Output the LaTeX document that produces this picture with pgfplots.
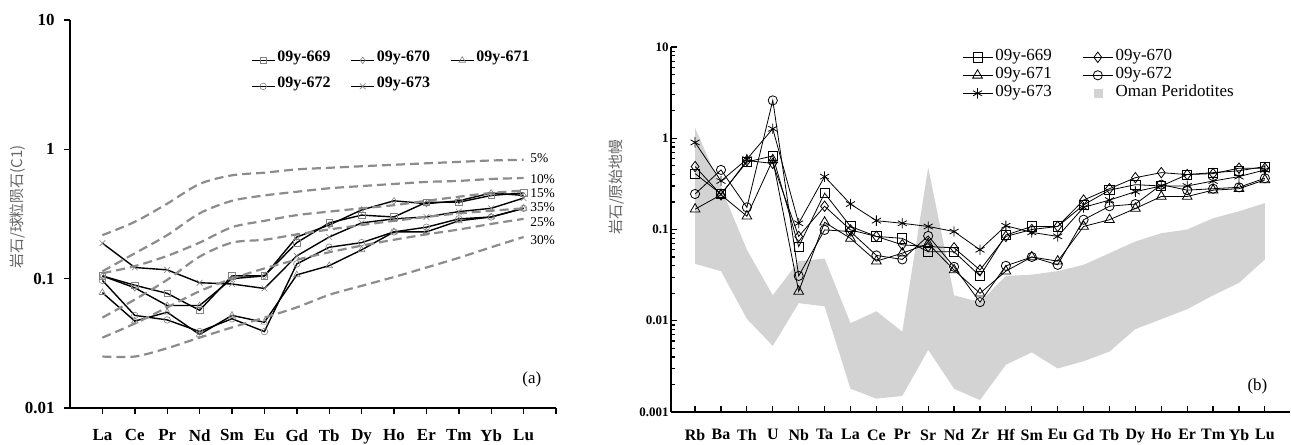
\documentclass[border=0pt]{standalone}
\usepackage{fontspec}
\setmainfont{Liberation Serif}
\newfontfamily\cjk{Noto Sans CJK SC}
\usepackage{pgfplots}
\pgfplotsset{compat=1.18}

% REE, chondrite normalised (panel a)
\pgfplotstableread{
x  s669  s670  s671  s672  s673
0  0.105 0.105 0.078 0.097 0.188
1  0.089 0.085 0.047 0.052 0.122
2  0.077 0.062 0.055 0.048 0.117
3  0.057 0.062 0.037 0.039 0.093
4  0.105 0.100 0.052 0.049 0.091
5  0.105 0.105 0.046 0.039 0.084
6  0.190 0.210 0.107 0.130 0.150
7  0.270 0.260 0.126 0.175 0.210
8  0.310 0.340 0.167 0.190 0.270
9  0.300 0.400 0.230 0.230 0.290
10 0.390 0.380 0.230 0.250 0.300
11 0.390 0.400 0.280 0.290 0.330
12 0.440 0.460 0.300 0.300 0.350
13 0.460 0.440 0.350 0.350 0.420
}\reetab

% melting model curves
\pgfplotstableread{
x  m5    m10   m15   m35   m25   m30
0  0.217 0.114 0.110 0.050 0.035 0.025
1  0.275 0.157 0.125 0.069 0.045 0.025
2  0.380 0.217 0.150 0.098 0.060 0.029
3  0.540 0.320 0.190 0.148 0.080 0.035
4  0.630 0.400 0.250 0.190 0.100 0.042
5  0.660 0.440 0.280 0.200 0.120 0.050
6  0.700 0.470 0.310 0.220 0.140 0.060
7  0.720 0.500 0.330 0.240 0.160 0.075
8  0.740 0.520 0.350 0.260 0.180 0.088
9  0.760 0.540 0.370 0.280 0.200 0.103
10 0.780 0.560 0.400 0.300 0.220 0.122
11 0.800 0.570 0.430 0.320 0.240 0.145
12 0.820 0.590 0.460 0.335 0.265 0.175
13 0.830 0.600 0.480 0.350 0.290 0.210
}\modtab

% spider, primitive mantle normalised (panel b)
\pgfplotstableread{
x  s669  s670  s671  s672  s673
0  0.41  0.49  0.167 0.245 0.90
1  0.245 0.24  0.24  0.45  0.34
2  0.55  0.57  0.14  0.175 0.59
3  0.64  0.53  0.58  2.60  1.27
4  0.065 0.084 0.021 0.031 0.117
5  0.25  0.18  0.12  0.099 0.38
6  0.108 0.099 0.080 0.095 0.19
7  0.084 0.084 0.045 0.052 0.125
8  0.080 0.068 0.055 0.047 0.117
9  0.057 0.065 0.070 0.085 0.108
10 0.057 0.063 0.036 0.039 0.095
11 0.031 0.036 0.020 0.016 0.060
12 0.087 0.084 0.035 0.040 0.110
13 0.108 0.100 0.050 0.050 0.093
14 0.108 0.108 0.045 0.041 0.084
15 0.186 0.21  0.108 0.128 0.175
16 0.27  0.28  0.128 0.18  0.21
17 0.31  0.37  0.17  0.19  0.26
18 0.30  0.42  0.23  0.31  0.30
19 0.40  0.40  0.23  0.27  0.30
20 0.42  0.41  0.27  0.28  0.34
21 0.44  0.47  0.28  0.29  0.38
22 0.49  0.47  0.35  0.365 0.45
}\spidertab

\definecolor{band}{RGB}{211,211,211}
\definecolor{curve}{RGB}{140,140,140}

\begin{document}
\begin{tikzpicture}
\path[use as bounding box] (0bp,0bp) rectangle (1291bp,-445bp);

% ---------------- panel (a)
\begin{axis}[
  at={(70bp,-408bp)}, anchor=south west, scale only axis,
  width=486bp, height=388bp,
  ymode=log, ymin=0.01, ymax=10, xmin=-1, xmax=14,
  axis x line=bottom, axis y line=left,
  axis line style={-, line width=1.6bp},
  xtick={0,...,13},
  xticklabels={La,Ce,Pr,Nd,Sm,Eu,Gd,Tb,Dy,Ho,Er,Tm,Yb,Lu},
  extra x ticks={14}, extra x tick labels={},
  ytick={0.01,0.1,1,10}, yticklabels={0.01,0.1,1,10},
  tick align=outside, major tick length=6bp, minor tick length=0bp,
  tick style={black, line width=1.4bp},
  xticklabel style={font=\fontsize{17}{17}\selectfont\bfseries, yshift=-12bp},
  yticklabel style={font=\fontsize{17}{17}\selectfont\bfseries, xshift=-6bp},
  clip=false,
  legend columns=3, legend cell align=left,
  legend style={at={(0.372,0.93)}, anchor=north west, draw=none, fill=none,
    font=\fontsize{16}{16}\selectfont\bfseries, inner sep=0pt,
    nodes={inner xsep=2bp, inner ysep=0pt, text height=14bp, text depth=12bp},
    row sep=0bp, /tikz/every even column/.append style={column sep=18bp}},
  legend image code/.code={\draw[#1,mark repeat=2,mark phase=2] plot coordinates {(0bp,0bp) (11.5bp,0bp) (23bp,0bp)};},
  every axis plot/.append style={black, line width=1.4bp, mark size=3.3bp,
    mark options={draw=black!50, line width=0.6bp, solid}},
]
\addplot[mark=square] table[x=x,y=s669] {\reetab};
\addlegendentry{09y-669}
\addplot[mark=diamond] table[x=x,y=s670] {\reetab};
\addlegendentry{09y-670}
\addplot[mark=triangle, mark size=3.8bp] table[x=x,y=s671] {\reetab};
\addlegendentry{09y-671}
\addplot[mark=o] table[x=x,y=s672] {\reetab};
\addlegendentry{09y-672}
\addplot[mark=x, mark size=4bp] table[x=x,y=s673] {\reetab};
\addlegendentry{09y-673}

\pgfplotsset{every axis plot/.append style={forget plot}}
\addplot[smooth, curve, line width=2.2bp, dash pattern=on 9bp off 5bp, mark=none] table[x=x,y=m5] {\modtab};
\addplot[smooth, curve, line width=2.2bp, dash pattern=on 9bp off 5bp, mark=none] table[x=x,y=m10] {\modtab};
\addplot[smooth, curve, line width=2.2bp, dash pattern=on 9bp off 5bp, mark=none] table[x=x,y=m15] {\modtab};
\addplot[smooth, curve, line width=2.2bp, dash pattern=on 9bp off 5bp, mark=none] table[x=x,y=m35] {\modtab};
\addplot[smooth, curve, line width=2.2bp, dash pattern=on 9bp off 5bp, mark=none] table[x=x,y=m25] {\modtab};
\addplot[smooth, curve, line width=2.2bp, dash pattern=on 9bp off 5bp, mark=none] table[x=x,y=m30] {\modtab};

\begin{scope}[every node/.style={anchor=west, font=\fontsize{13.5}{13.5}\selectfont, inner sep=0pt}]
\node at (axis cs:13.2,0.86) {5\%};
\node at (axis cs:13.2,0.59) {10\%};
\node at (axis cs:13.2,0.46) {15\%};
\node at (axis cs:13.2,0.355) {35\%};
\node at (axis cs:13.2,0.275) {25\%};
\node at (axis cs:13.2,0.20) {30\%};
\end{scope}
\node[font=\fontsize{17}{17}\selectfont, anchor=east, inner sep=0pt] at (axis cs:13.55,0.0165) {(a)};
\end{axis}

% ---------------- panel (b)
\begin{axis}[
  at={(671bp,-412bp)}, anchor=south west, scale only axis,
  width=619bp, height=365bp,
  ymode=log, ymin=0.001, ymax=10, xmin=-0.93, xmax=22.97,
  axis x line=bottom, axis y line=left,
  axis line style={-, line width=1.6bp},
  xtick={0,...,22},
  xticklabels={Rb,Ba,Th,U,Nb,Ta,La,Ce,Pr,Sr,Nd,Zr,Hf,Sm,Eu,Gd,Tb,Dy,Ho,Er,Tm,Yb,Lu},
  ytick={0.001,0.01,0.1,1,10}, yticklabels={0.001,0.01,0.1,1,10},
  tick align=inside, major tick length=6bp, minor tick length=3.5bp,
  tick style={black, line width=1.2bp},
  xticklabel style={font=\fontsize{16}{16}\selectfont\bfseries, yshift=-14bp},
  yticklabel style={font=\fontsize{13}{13}\selectfont\bfseries, xshift=1bp},
  clip=false,
  legend columns=2, legend cell align=left,
  legend style={at={(0.470,0.997)}, anchor=north west, draw=none, fill=none,
    font=\fontsize{17}{17}\selectfont, inner sep=0pt,
    nodes={inner xsep=2.5bp, inner ysep=0pt, text height=12bp, text depth=6bp},
    row sep=0bp, /tikz/every even column/.append style={column sep=28bp}},
  legend image code/.code={\draw[#1,mark repeat=2,mark phase=2] plot coordinates {(0bp,0bp) (15bp,0bp) (30bp,0bp)};},
  every axis plot/.append style={black, line width=0.8bp, mark size=4.6bp,
    mark options={draw=black, fill=none, line width=0.8bp, solid}},
]
\addplot[fill=band, draw=none, mark=none, forget plot] coordinates {
 (0,1.3) (1,0.29) (2,0.06) (3,0.019) (4,0.045) (5,0.048) (6,0.0094) (7,0.0127)
 (8,0.0076) (9,0.48) (10,0.019) (11,0.016) (12,0.031) (13,0.032) (14,0.035)
 (15,0.041) (16,0.055) (17,0.074) (18,0.091) (19,0.10) (20,0.133) (21,0.158) (22,0.195)
 (22,0.047) (21,0.026) (20,0.019) (19,0.0134) (18,0.0104) (17,0.0081) (16,0.0046)
 (15,0.0036) (14,0.0030) (13,0.0045) (12,0.0033) (11,0.00135) (10,0.0018) (9,0.0048)
 (8,0.0015) (7,0.0014) (6,0.0018) (5,0.0144) (4,0.0156) (3,0.0053) (2,0.0105)
 (1,0.035) (0,0.042)} -- cycle;
\addplot[mark=square] table[x=x,y=s669] {\spidertab};
\addlegendentry{09y-669}
\addplot[mark=diamond, mark size=5.2bp] table[x=x,y=s670] {\spidertab};
\addlegendentry{09y-670}
\addplot[mark=triangle, mark size=5.6bp] table[x=x,y=s671] {\spidertab};
\addlegendentry{09y-671}
\addplot[mark=o] table[x=x,y=s672] {\spidertab};
\addlegendentry{09y-672}
\addplot[mark=asterisk, mark size=5.2bp] table[x=x,y=s673] {\spidertab};
\addlegendentry{09y-673}
\addlegendimage{legend image code/.code={\fill[band] (11.5bp,-4bp) rectangle (19.5bp,4bp);}}
\addlegendentry{Oman Peridotites}
\node[font=\fontsize{17}{17}\selectfont, anchor=east, inner sep=0pt] at (axis cs:22.1,0.0019) {(b)};
\end{axis}

% y axis titles
\node[rotate=90, text=black!60, font=\cjk\fontsize{15}{15}\selectfont] at (18bp,-207bp) {岩石/球粒陨石(C1)};
\node[rotate=90, text=black!60, font=\cjk\fontsize{15}{15}\selectfont] at (617bp,-187bp) {岩石/原始地幔};
\end{tikzpicture}
\end{document}
